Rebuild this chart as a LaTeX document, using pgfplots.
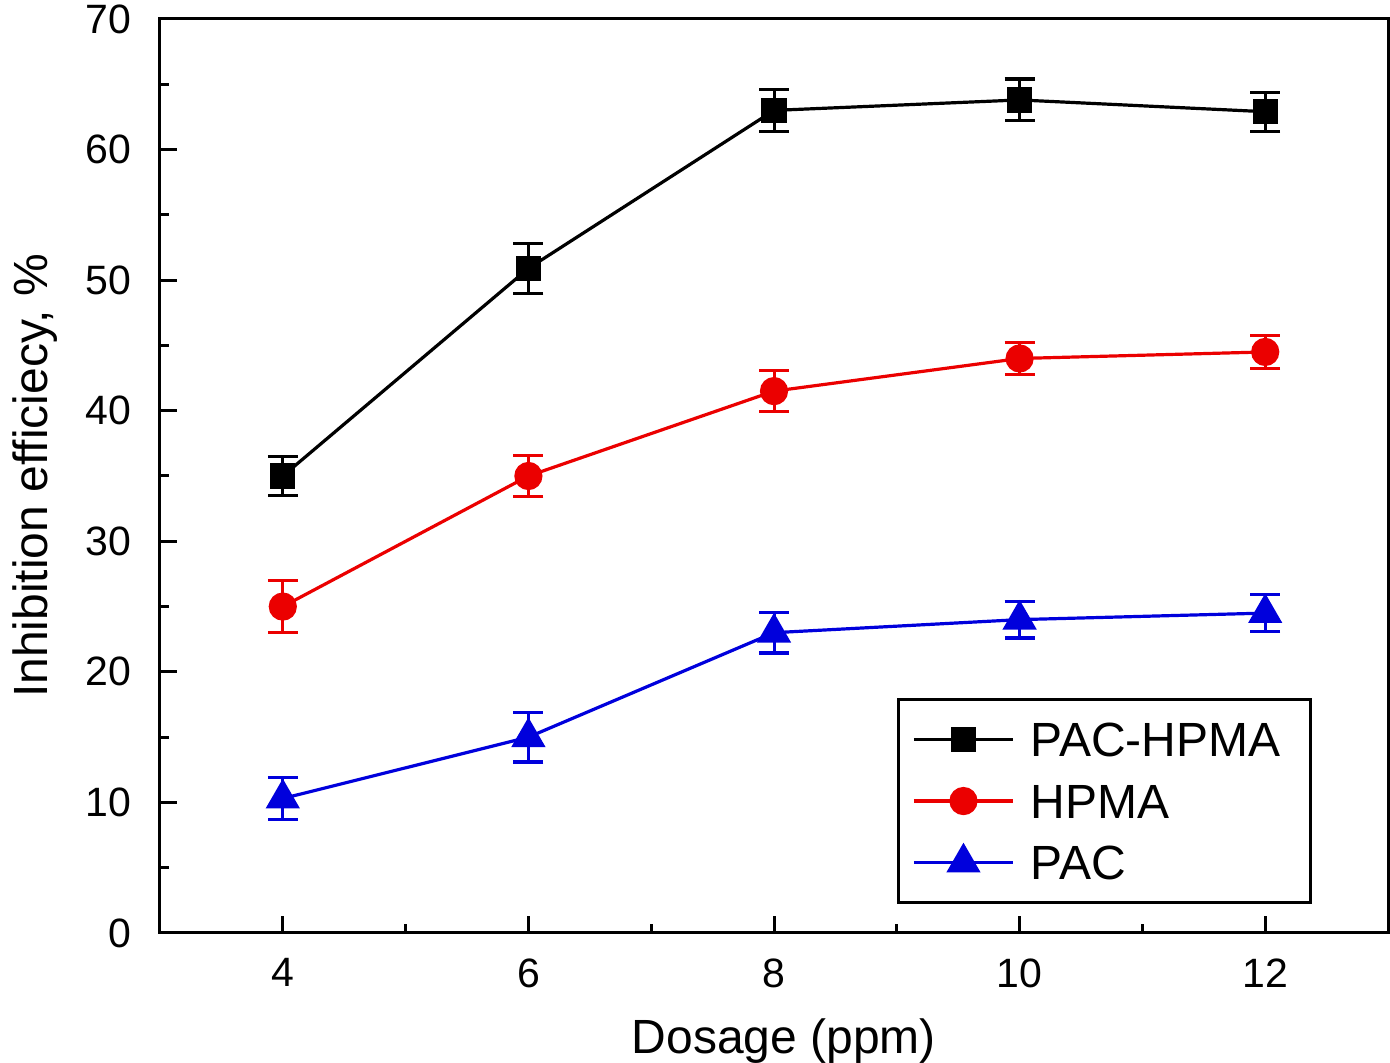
\documentclass[border=0pt]{standalone}
\usepackage{fontspec}
\setmainfont{Liberation Sans}
\usepackage{pgfplots}
\pgfplotsset{compat=1.18}
\definecolor{myred}{RGB}{235,0,0}
\definecolor{myblue}{RGB}{0,0,220}
\begin{document}
\begin{tikzpicture}
\begin{axis}[
  at={(0,0)}, anchor=south west,
  scale only axis, width=614pt, height=457pt,
  xmin=3, xmax=13, ymin=0, ymax=70,
  xtick={4,6,8,10,12}, ytick={0,10,...,70},
  minor xtick={5,7,9,11}, minor ytick={5,15,...,65},
  tick align=inside, xtick pos=bottom, ytick pos=left,
  major tick length=8.5pt, minor tick length=4.5pt,
  axis line style={line width=1.5pt},
  every tick/.style={line width=1.5pt, black},
  /pgf/number format/assume math mode=true,
  tick label style={font=\fontsize{20.5}{24}\selectfont},
  yticklabel style={inner sep=0pt, anchor=east, xshift=-14pt},
  xticklabel style={inner sep=0pt, anchor=north, yshift=-12.5pt},
  xlabel={Dosage (ppm)},
  ylabel={Inhibition efficiecy, \%},
  label style={font=\fontsize{24}{28}\selectfont},
  xlabel style={at={(axis description cs:0.508,0)}, anchor=north, inner sep=0pt, yshift=-42.5pt},
  ylabel style={at={(axis description cs:0,0.5)}, anchor=north, inner sep=0pt, yshift=74pt},
  legend cell align=left,
  legend style={at={(axis description cs:0.938,0.0317)}, anchor=south east,
    draw=black, line width=1.5pt, inner xsep=7pt, inner ysep=7.5pt, row sep=5.75pt,
    font=\fontsize{24}{28}\selectfont,
    nodes={inner ysep=4pt, inner xsep=8pt, text height=17pt, text depth=0pt}},
  legend image code/.code={\draw[mark repeat=2, mark phase=2, #1, line width=1.6pt] plot coordinates {(0pt,0pt) (24.75pt,0pt) (49.5pt,0pt)};},
  error bars/error bar style={line width=1.5pt, solid},
  error bars/error mark options={rotate=90, mark size=7.5pt, line width=1.6pt},
]
\addplot[black, line width=1.6pt, mark=square*, mark size=5.5pt, mark options={solid},
  error bars/.cd, y dir=both, y explicit]
  coordinates {(4,35) +- (0,1.5) (6,50.9) +- (0,1.9) (8,63.0) +- (0,1.6) (10,63.8) +- (0,1.6) (12,62.9) +- (0,1.5)};
\addlegendentry{PAC-HPMA}
\addplot[myred, line width=1.6pt, mark=*, mark size=6.25pt, mark options={solid},
  error bars/.cd, y dir=both, y explicit]
  coordinates {(4,25) +- (0,2.0) (6,35) +- (0,1.55) (8,41.5) +- (0,1.55) (10,44.0) +- (0,1.25) (12,44.5) +- (0,1.25)};
\addlegendentry{HPMA}
\addplot[myblue, line width=1.6pt, mark=triangle*, mark size=8.3pt, mark options={solid},
  error bars/.cd, y dir=both, y explicit]
  coordinates {(4,10.3) +- (0,1.6) (6,15.0) +- (0,1.9) (8,23.0) +- (0,1.55) (10,24.0) +- (0,1.4) (12,24.5) +- (0,1.4)};
\addlegendentry{PAC}
\end{axis}
\pgfresetboundingbox
\useasboundingbox (-80pt,-65pt) rectangle (615pt,466.5pt);
\end{tikzpicture}
\end{document}
